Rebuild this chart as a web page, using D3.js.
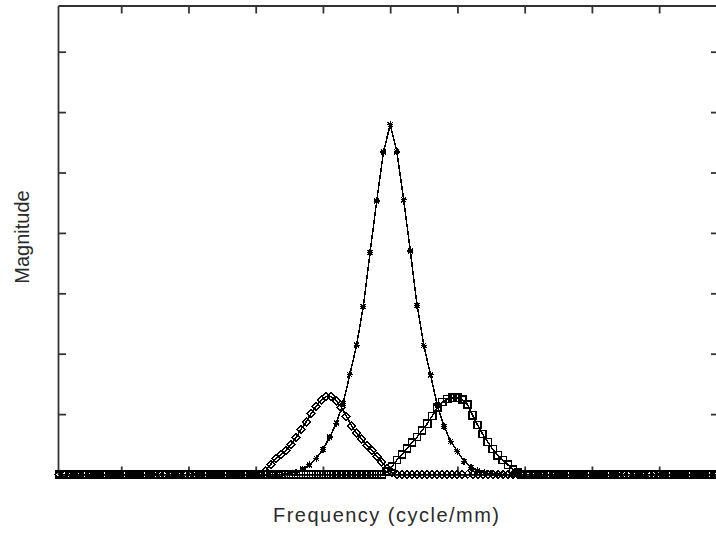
<!DOCTYPE html>
<meta charset="utf-8">
<html>
<head>
<script src="https://cdn.jsdelivr.net/npm/d3@7"></script>
<style>
body { margin: 0; background: #fff; }
svg { display: block; }
.lbl { font-family: "Liberation Sans", Arial, sans-serif; font-size: 20px; fill: #2a2a2a; }
</style>
</head>
<body>
<div id="chart"></div>
<script>
// sample grids (axis units)
var starX = d3.range(1, 99);             // 98 samples, step 1
var fineX = d3.range(0, 131).map(function (k) { return 0.75 + 0.75 * k; }); // 131 samples

// '*' series, centre peak
var starY = [
  0,0,0,0,0,0,0,0,0,0, 0,0,0,0,0,0,0,0,0,0,
  0,0,0,0,0,0,0,0,0,0, 0,0,0,0,
  0.02,0.04,0.09,0.16,0.27,0.41,0.62,0.85,1.18,1.65,
  2.14,2.78,3.67,4.53,5.34,5.79,5.34,4.55,3.70,2.80,
  2.14,1.65,1.15,0.80,0.55,0.38,0.22,0.12,0.06,0.03,0.01,
  0,0,0,0,0,0,0,0,0,0, 0,0,0,0,0,0,0,0,0,0,
  0,0,0,0,0,0,0,0,0,0, 0,0,0
];

// diamond series, left peak
var diamondY = [
  0,0,0,0,0,0,0,0,0,0, 0,0,0,0,0,0,0,0,0,0,
  0,0,0,0,0,0,0,0,0,0, 0,0,0,0,0,0,0,0,0,0, 0,
  0.06,0.17,0.26,0.33,0.40,0.50,0.61,0.75,0.87,1.01,
  1.13,1.23,1.29,1.29,1.22,1.11,0.96,0.81,0.68,0.59,
  0.48,0.40,0.30,0.21,0.10,0.03,
  0,0,0,0,0,0,0,0,0,0, 0,0,0,0,0,0,0,0,0,0,
  0,0,0,0,0,0,0,0,0,0, 0,0,0,0,0,0,0,0,0,0,
  0,0,0,0,0,0,0,0,0,0, 0,0,0,0,0,0,0,0,0,0,
  0,0,0,0
];

// square series, right peak
var squareY = [
  0,0,0,0,0,0,0,0,0,0, 0,0,0,0,0,0,0,0,0,0,
  0,0,0,0,0,0,0,0,0,0, 0,0,0,0,0,0,0,0,0,0,
  0,0,0,0,0,0,0,0,0,0, 0,0,0,0,0,0,0,0,0,0,
  0,0,0,0,0,
  0.05,0.13,0.24,0.33,0.43,0.53,0.62,0.73,0.84,0.97,
  1.11,1.20,1.25,1.27,1.27,1.24,1.16,0.98,0.82,0.67,
  0.54,0.42,0.32,0.24,0.16,0.08,0.03,
  0,0,0,0,0,0,0,0,0,0, 0,0,0,0,0,0,0,0,0,0,
  0,0,0,0,0,0,0,0,0,0, 0,0,0,0,0,0,0,0,0
];

var xTicks = [10, 20, 30, 40, 50, 60, 70, 80, 90];
var yTicks = [1, 2, 3, 4, 5, 6, 7];

(function () {
  var W = 716, H = 533;
  var pl = 58, pr = 719, pt = 5.5, pb = 474.5;

  var svg = d3.select("#chart").append("svg").attr("width", W).attr("height", H);

  var x = d3.scaleLinear().domain([0.6, 98.9]).range([pl, pr]);
  var y = d3.scaleLinear().domain([0, 7.765]).range([pb, pt]);

  // frame + inward ticks
  var axisCol = "#333";
  function axis(gen, tx, ty) {
    var g = svg.append("g").attr("transform", "translate(" + tx + "," + ty + ")").call(gen);
    g.selectAll("text").remove();
    g.select(".domain").attr("stroke", axisCol).attr("stroke-width", 1.8);
    g.selectAll(".tick line").attr("stroke", axisCol).attr("stroke-width", 1.8);
    return g;
  }
  axis(d3.axisTop(x).tickValues(xTicks).tickSize(-8).tickSizeOuter(0), 0, pt);
  axis(d3.axisBottom(x).tickValues(xTicks).tickSize(-8).tickSizeOuter(0), 0, pb);
  axis(d3.axisLeft(y).tickValues(yTicks).tickSize(-8).tickSizeOuter(0), pl, 0);
  axis(d3.axisRight(y).tickValues(yTicks).tickSize(-8).tickSizeOuter(0), pr, 0);

  function series(xs, ys, marker, mw) {
    var pts = xs.map(function (v, i) { return [v, ys[i]]; });
    var line = d3.line().x(function (d) { return x(d[0]); }).y(function (d) { return y(d[1]); });
    svg.append("path").datum(pts)
      .attr("d", line)
      .attr("fill", "none").attr("stroke", "#000").attr("stroke-width", 1.5)
      .attr("shape-rendering", "crispEdges");
    svg.append("g").selectAll("path").data(pts).enter().append("path")
      .attr("transform", function (d) { return "translate(" + x(d[0]) + "," + y(d[1]) + ")"; })
      .attr("d", marker)
      .attr("fill", "none").attr("stroke", "#000").attr("stroke-width", mw)
      .attr("shape-rendering", "crispEdges");
  }

  var starM = "M-3,0H3M0,-3.5V3.5M-2.5,-2.5L2.5,2.5M-2.5,2.5L2.5,-2.5";
  var diamondM = "M0,-4L4,0L0,4L-4,0Z";
  var squareM = "M-3.6,-3.6H3.6V3.6H-3.6Z";

  series(fineX, diamondY, diamondM, 1.4);
  series(fineX, squareY, squareM, 1.5);
  series(starX, starY, starM, 1.3);

  svg.append("text").attr("class", "lbl")
    .attr("x", 386).attr("y", 522)
    .attr("text-anchor", "middle")
    .attr("textLength", 226).attr("lengthAdjust", "spacing")
    .text("Frequency (cycle/mm)");

  svg.append("text").attr("class", "lbl")
    .attr("transform", "translate(29,237) rotate(-90)")
    .attr("text-anchor", "middle")
    .text("Magnitude");
})();
</script>
</body>
</html>
